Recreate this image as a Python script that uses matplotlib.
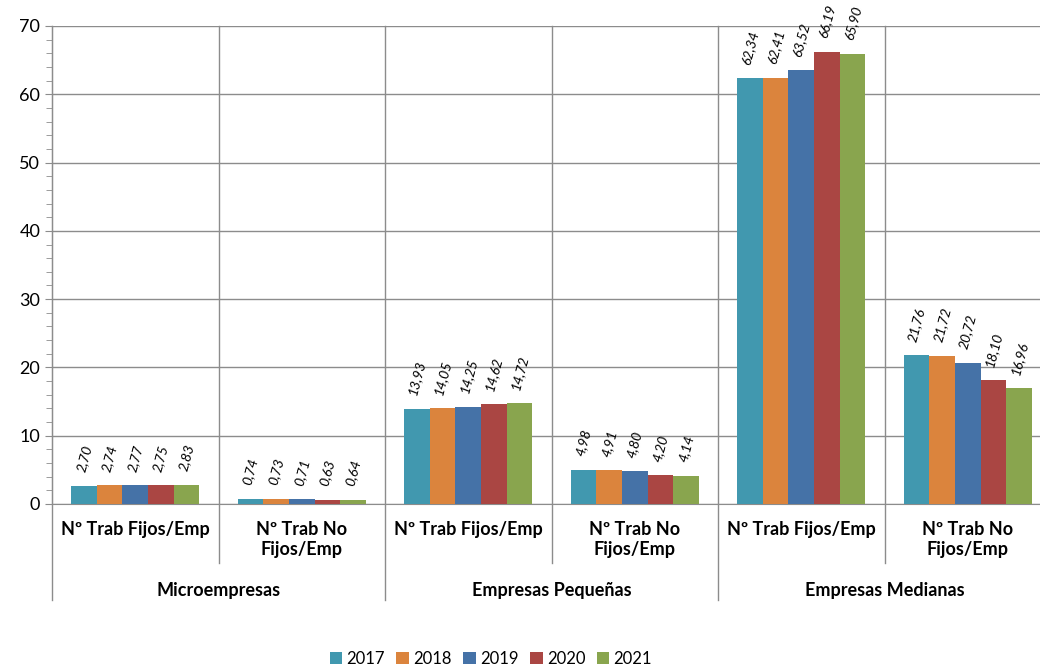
import matplotlib
matplotlib.use("Agg")
import matplotlib.pyplot as plt
import matplotlib.transforms as mtransforms
from matplotlib.ticker import MultipleLocator
import numpy as np

plt.rcParams['font.family'] = ['Lato', 'DejaVu Sans']

years = ["2017", "2018", "2019", "2020", "2021"]
subcats = ["Nº Trab Fijos/Emp", "Nº Trab No\nFijos/Emp"] * 3
groups = ["Microempresas", "Empresas Pequeñas", "Empresas Medianas"]

v2017 = [2.70, 0.74, 13.93, 4.98, 62.34, 21.76]
v2018 = [2.74, 0.73, 14.05, 4.91, 62.41, 21.72]
v2019 = [2.77, 0.71, 14.25, 4.80, 63.52, 20.72]
v2020 = [2.75, 0.63, 14.62, 4.20, 66.19, 18.10]
v2021 = [2.83, 0.64, 14.72, 4.14, 65.90, 16.96]
series = [v2017, v2018, v2019, v2020, v2021]

colors = ["#4198AF", "#DB843D", "#4572A7", "#AA4643", "#89A54E"]
grid_col = "#8c8c8c"

fig = plt.figure(figsize=(10.4, 6.65), dpi=100)
ax = fig.add_axes([52 / 1040, 1 - 504 / 665, 999 / 1040, 478 / 665])

x = np.arange(len(subcats))
bw = 0.154
for i, (vals, c, yr) in enumerate(zip(series, colors, years)):
    xs = x + (i - 2) * bw
    ax.bar(xs, vals, width=bw, color=c, label=yr, zorder=3)
    for xi, v in zip(xs, vals):
        ax.annotate(f"{v:.2f}".replace(".", ","), (xi, v), xytext=(0, 9),
                    textcoords="offset points", rotation=75, ha="center",
                    va="bottom", fontsize=10, style="italic", zorder=4)

ax.set_xlim(-0.5, 5.5)
ax.set_ylim(0, 70)
ax.yaxis.set_major_locator(MultipleLocator(10))
ax.yaxis.set_minor_locator(MultipleLocator(2))
ax.tick_params(axis="y", which="both", direction="out", colors=grid_col,
               labelcolor="black", labelsize=13, length=5)
ax.tick_params(axis="y", which="minor", length=4)
ax.set_xticks([])
ax.grid(axis="y", color=grid_col, linewidth=1, zorder=0)
for s in ["top", "right"]:
    ax.spines[s].set_visible(False)
ax.spines["left"].set_color(grid_col)
ax.spines["bottom"].set_color(grid_col)

trans = mtransforms.blended_transform_factory(ax.transData, ax.transAxes)
for b in np.arange(-0.5, 6.0, 1.0):
    long = b in (-0.5, 1.5, 3.5, 5.5)
    ybot = -0.201 if long else -0.123
    ax.plot([b, b], [ybot, 1], color=grid_col, lw=1, transform=trans,
            clip_on=False, zorder=1)

for xi, lab in zip(x, subcats):
    ax.text(xi, -0.035, lab, transform=trans, ha="center", va="top",
            fontsize=13, fontweight="bold", linespacing=1.2)
for gi, g in enumerate(groups):
    ax.text(2 * gi + 0.5, -0.18, g, transform=trans, ha="center",
            va="center", fontsize=13, fontweight="bold")

fig.legend(loc="lower center", bbox_to_anchor=(0.472, -0.025), ncol=5,
           frameon=False, fontsize=12, handlelength=0.75, handleheight=0.75,
           handletextpad=0.25, columnspacing=0.7)

fig.savefig("out.png", dpi=100)
